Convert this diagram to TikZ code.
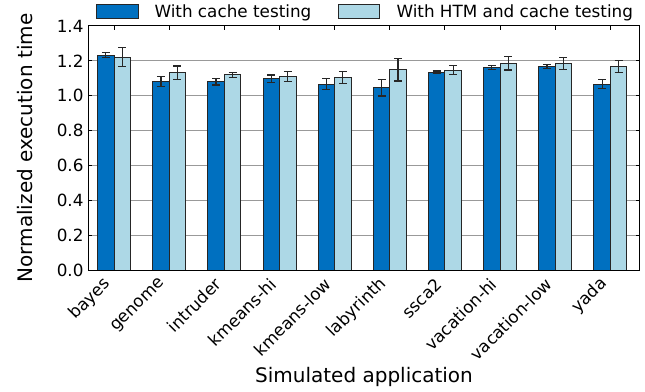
\documentclass[tikz,border=0pt]{standalone}
\usepackage{fontspec}
\setmainfont{DejaVu Sans}
\definecolor{cachedark}{RGB}{0,112,192}
\definecolor{htmlight}{RGB}{173,216,230}
% error bar with caps: x, value, half range
\newcommand{\errorbar}[3]{\draw[errbar] (#1-4,#2-#3) -- (#1+4,#2-#3) (#1,#2-#3) -- (#1,#2+#3) (#1-4,#2+#3) -- (#1+4,#2+#3);}

\begin{document}
\begin{tikzpicture}[x=1pt,y=-1pt,line width=1pt,
  darkbar/.style={fill=cachedark,draw=black!85,line width=1pt},
  lightbar/.style={fill=htmlight,draw=black!85,line width=1pt},
  errbar/.style={draw=black!85,line width=1.2pt},
  gridline/.style={draw=black!40,line width=1pt},
  axisframe/.style={draw=black,line width=1pt},
  ticklabel/.style={inner sep=0pt,font=\fontsize{16.8}{20}\selectfont},
  yticklabel/.style={ticklabel,anchor=east},
  xticklabel/.style={ticklabel,anchor=east,rotate=45},
  axislabel/.style={inner sep=0pt,font=\fontsize{20}{24}\selectfont}]
\path[use as bounding box] (0,0) rectangle (645,391);

% legend
\draw[darkbar] (96,4) rectangle (138.7,18);
\node[ticklabel,anchor=base west] (legdark) at (154,17.3) {With cache testing};
\draw[lightbar] (338.3,4) rectangle (379.3,18);
\node[ticklabel,anchor=base west] (leglight) at (396,17.3) {With HTM and cache testing};

\begin{scope}[shift={(0,270)},y=174.3pt]
% grid
\draw[gridline] (88,0.2) -- (639.5,0.2) (88,0.4) -- (639.5,0.4) (88,0.6) -- (639.5,0.6)
  (88,0.8) -- (639.5,0.8) (88,1.0) -- (639.5,1.0) (88,1.2) -- (639.5,1.2);

% bars
\draw[darkbar] (97.5,0) rectangle (114.0,1.232);
\draw[lightbar] (114.0,0) rectangle (130.5,1.222);
\draw[darkbar] (152.7,0) rectangle (169.2,1.080);
\draw[lightbar] (169.2,0) rectangle (185.7,1.132);
\draw[darkbar] (207.8,0) rectangle (224.3,1.080);
\draw[lightbar] (224.3,0) rectangle (240.8,1.119);
\draw[darkbar] (263.0,0) rectangle (279.5,1.098);
\draw[lightbar] (279.5,0) rectangle (296.0,1.109);
\draw[darkbar] (318.1,0) rectangle (334.6,1.067);
\draw[lightbar] (334.6,0) rectangle (351.1,1.106);
\draw[darkbar] (373.3,0) rectangle (389.8,1.046);
\draw[lightbar] (389.8,0) rectangle (406.3,1.149);
\draw[darkbar] (428.4,0) rectangle (444.9,1.134);
\draw[lightbar] (444.9,0) rectangle (461.4,1.146);
\draw[darkbar] (483.6,0) rectangle (500.1,1.163);
\draw[lightbar] (500.1,0) rectangle (516.6,1.186);
\draw[darkbar] (538.7,0) rectangle (555.2,1.166);
\draw[lightbar] (555.2,0) rectangle (571.7,1.186);
\draw[darkbar] (593.9,0) rectangle (610.4,1.067);
\draw[lightbar] (610.4,0) rectangle (626.9,1.168);

% error bars
\errorbar{105.75}{1.232}{0.015}
\errorbar{122.25}{1.222}{0.054}
\errorbar{160.95}{1.080}{0.029}
\errorbar{177.45}{1.132}{0.038}
\errorbar{216.05}{1.080}{0.019}
\errorbar{232.55}{1.119}{0.013}
\errorbar{271.25}{1.098}{0.021}
\errorbar{287.75}{1.109}{0.029}
\errorbar{326.35}{1.067}{0.030}
\errorbar{342.85}{1.106}{0.034}
\errorbar{381.55}{1.046}{0.048}
\errorbar{398.05}{1.149}{0.065}
\errorbar{436.65}{1.134}{0.008}
\errorbar{453.15}{1.146}{0.025}
\errorbar{491.85}{1.163}{0.011}
\errorbar{508.35}{1.186}{0.038}
\errorbar{546.95}{1.166}{0.011}
\errorbar{563.45}{1.186}{0.034}
\errorbar{602.15}{1.067}{0.027}
\errorbar{618.65}{1.168}{0.036}

% frame and inward ticks
\draw[axisframe] (88,0) rectangle (639.5,1.4);
\draw[axisframe] (88,0.2) -- ++(4,0) (88,0.4) -- ++(4,0) (88,0.6) -- ++(4,0)
  (88,0.8) -- ++(4,0) (88,1.0) -- ++(4,0) (88,1.2) -- ++(4,0);
\draw[axisframe] (639.5,0.2) -- ++(-4,0) (639.5,0.4) -- ++(-4,0) (639.5,0.6) -- ++(-4,0)
  (639.5,0.8) -- ++(-4,0) (639.5,1.0) -- ++(-4,0) (639.5,1.2) -- ++(-4,0);
\draw[axisframe] (114.0,1.4) -- ++(0,-0.023) (169.2,1.4) -- ++(0,-0.023) (224.3,1.4) -- ++(0,-0.023)
  (279.5,1.4) -- ++(0,-0.023) (334.6,1.4) -- ++(0,-0.023) (389.8,1.4) -- ++(0,-0.023)
  (444.9,1.4) -- ++(0,-0.023) (500.1,1.4) -- ++(0,-0.023) (555.2,1.4) -- ++(0,-0.023)
  (610.4,1.4) -- ++(0,-0.023);

% y tick labels
\node[yticklabel] (y00) at (84,0.0) {0.0};
\node[yticklabel] (y02) at (84,0.2) {0.2};
\node[yticklabel] (y04) at (84,0.4) {0.4};
\node[yticklabel] (y06) at (84,0.6) {0.6};
\node[yticklabel] (y08) at (84,0.8) {0.8};
\node[yticklabel] (y10) at (84,1.0) {1.0};
\node[yticklabel] (y12) at (84,1.2) {1.2};
\node[yticklabel] (y14) at (84,1.4) {1.4};
\end{scope}

% x tick labels
\node[xticklabel] (xbayes) at (108.0,281) {bayes};
\node[xticklabel] (xgenome) at (163.2,281) {genome};
\node[xticklabel] (xintruder) at (218.3,281) {intruder};
\node[xticklabel] (xkmhi) at (273.5,281) {kmeans-hi};
\node[xticklabel] (xkmlow) at (328.6,281) {kmeans-low};
\node[xticklabel] (xlaby) at (383.8,281) {labyrinth};
\node[xticklabel] (xssca) at (438.9,281) {ssca2};
\node[xticklabel] (xvachi) at (494.1,281) {vacation-hi};
\node[xticklabel] (xvaclow) at (549.2,281) {vacation-low};
\node[xticklabel] (xyada) at (604.4,281) {yada};

% axis titles
\node[axislabel,rotate=90] (ylab) at (25,148) {Normalized execution time};
\node[axislabel] (xlab) at (364,377) {Simulated application};
\end{tikzpicture}
\end{document}
